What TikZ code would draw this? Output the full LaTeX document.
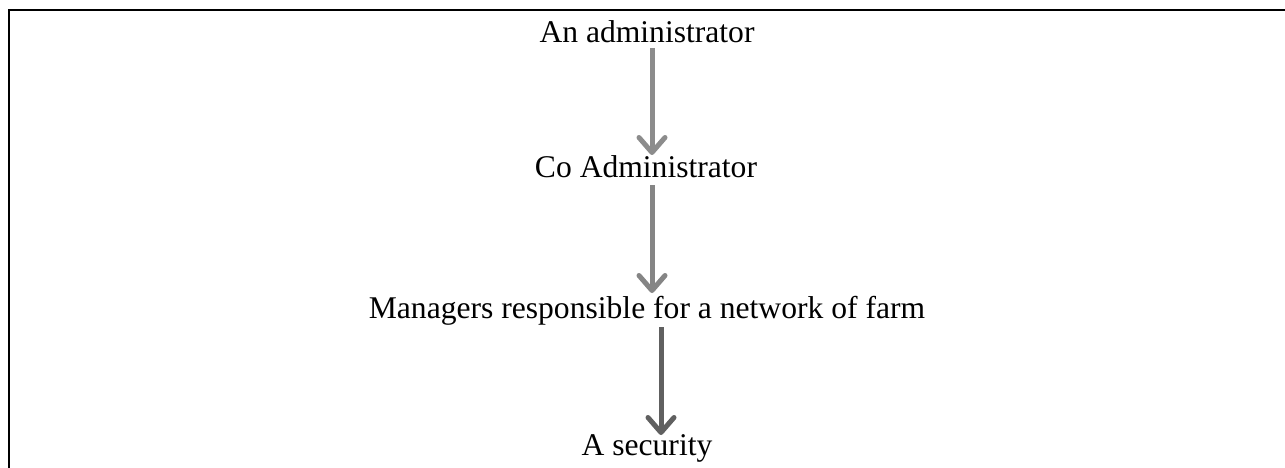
\documentclass[tikz,border=0pt]{standalone}
\usepackage{fontspec}
\setmainfont{Liberation Serif}
\usetikzlibrary{arrows.meta}
\definecolor{arA}{HTML}{8C8C8C}
\definecolor{arB}{HTML}{858585}
\definecolor{arC}{HTML}{606060}
\begin{document}
\begin{tikzpicture}[x=1pt,y=-1pt,
  lbl/.style={anchor=base,inner sep=0pt,font=\fontsize{31.6}{38}\selectfont},
  conn/.style={line width=5pt,-{Straight Barb[length=15pt,width=26pt,line width=5pt,line cap=round,line join=round]}}]
\useasboundingbox (0,0) rectangle (1285,468);
\fill[white] (0,0) rectangle (1285,468);
\draw[line width=2pt] (9,468) -- (9,10) -- (1285,10);
\node[lbl] (a) at (647,43) {An administrator};
\node[lbl] (b) at (646,178) {Co Administrator};
\node[lbl] (c) at (647,318) {Managers responsible for a network of farm};
\node[lbl] (d) at (647,455) {A security};
\coordinate (a1) at (652,48);
\coordinate (b0) at (652,155);
\coordinate (b1) at (652,185);
\coordinate (c0) at (652,293);
\coordinate (c1) at (661,327);
\coordinate (d0) at (661,435);
\draw[conn,arA] (a1) -- (b0);
\draw[conn,arB] (b1) -- (c0);
\draw[conn,arC] (c1) -- (d0);
\end{tikzpicture}
\end{document}
